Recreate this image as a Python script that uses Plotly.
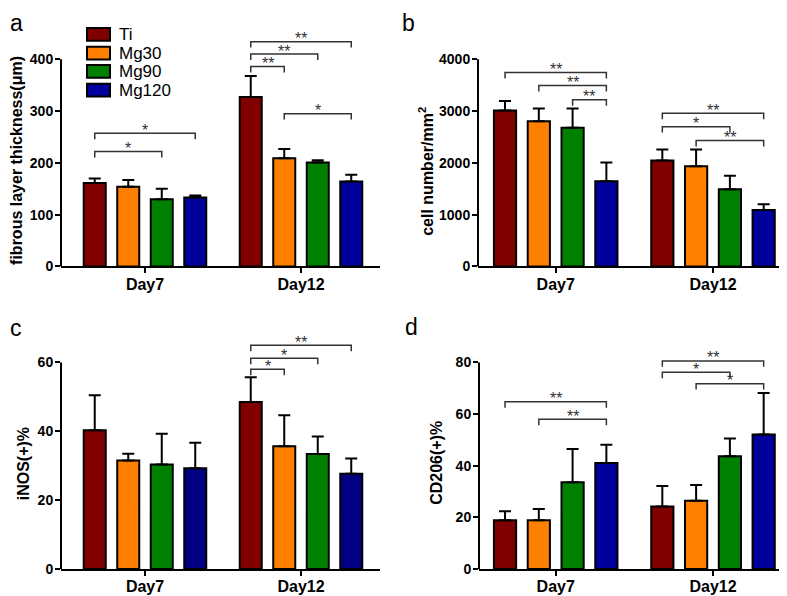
import plotly.graph_objects as go

W, H = 787, 596

groups = ["Day7", "Day12"]
series = ["Ti", "Mg30", "Mg90", "Mg120"]
colors = ["#800000", "#ff8000", "#008000", "#00009c"]
colors_c = ["#800000", "#ff8000", "#008000", "#000080"]

# Panel a: fibrous layer thickness (um)  [Day7, Day12]
a_Ti = [161, 327]
a_Mg30 = [154, 209]
a_Mg90 = [130, 201]
a_Mg120 = [133, 164]
a_Ti_err = [9, 41]
a_Mg30_err = [13, 18]
a_Mg90_err = [20, 4]
a_Mg120_err = [4, 13]
a_ticks = [0, 100, 200, 300, 400]
# significance brackets: (group, from series, to series, height, label)
a_sig = [(0, 0, 2, 222, "*"), (0, 0, 3, 257, "*"),
         (1, 0, 1, 386, "**"), (1, 0, 2, 410, "**"), (1, 0, 3, 434, "**"),
         (1, 1, 3, 295, "*")]

# Panel b: cell number/mm2
b_Ti = [3010, 2044]
b_Mg30 = [2806, 1937]
b_Mg90 = [2679, 1492]
b_Mg120 = [1644, 1092]
b_Ti_err = [184, 216]
b_Mg30_err = [242, 323]
b_Mg90_err = [369, 260]
b_Mg120_err = [362, 108]
b_ticks = [0, 1000, 2000, 3000, 4000]
b_sig = [(0, 0, 3, 3746, "**"), (0, 1, 3, 3492, "**"), (0, 2, 3, 3219, "**"),
         (1, 0, 3, 2959, "**"), (1, 0, 2, 2699, "*"), (1, 1, 3, 2432, "**")]

# Panel c: iNOS(+)%
c_Ti = [40.3, 48.5]
c_Mg30 = [31.5, 35.7]
c_Mg90 = [30.4, 33.4]
c_Mg120 = [29.3, 27.7]
c_Ti_err = [10.2, 7.2]
c_Mg30_err = [2.0, 9.0]
c_Mg90_err = [8.9, 5.1]
c_Mg120_err = [7.4, 4.4]
c_ticks = [0, 20, 40, 60]
c_sig = [(1, 0, 1, 58.0, "*"), (1, 0, 2, 61.2, "*"), (1, 0, 3, 65.0, "**")]

# Panel d: CD206(+)%
d_Ti = [18.9, 24.2]
d_Mg30 = [18.9, 26.5]
d_Mg90 = [33.6, 43.7]
d_Mg120 = [41.1, 52.1]
d_Ti_err = [3.5, 8.0]
d_Mg30_err = [4.4, 6.1]
d_Mg90_err = [12.9, 6.9]
d_Mg120_err = [7.0, 16.1]
d_ticks = [0, 20, 40, 60, 80]
d_sig = [(0, 0, 3, 64.8, "**"), (0, 1, 3, 58.0, "**"),
         (1, 0, 3, 80.6, "**"), (1, 0, 2, 76.2, "*"), (1, 1, 3, 71.8, "*")]

titles = ["fibrous layer thickness(\u03bcm)", "cell number/mm<sup>2</sup>", "iNOS(+)%", "CD206(+)%"]
letters = ["a", "b", "c", "d"]

FONT = "Liberation Sans, Arial, Helvetica, sans-serif"
BARGAP = 0.141
BARGROUPGAP = 0.343
SLOT = (1 - BARGAP) / 4

# pixel geometry of each panel: left, right, x of Day7, px per group,
# y pixel of 0, y pixel of top tick, domain top pixel
geom = [
    dict(l=53, r=372, g0=137, gs=156, y0=262, yt=52, top=12),
    dict(l=470, r=780, g0=547.7, gs=157.3, y0=262, yt=52, top=12),
    dict(l=53, r=372, g0=137, gs=156, y0=568.7, yt=359.3, top=318),
    dict(l=471, r=781, g0=547.7, gs=157.3, y0=568.7, yt=359.3, top=318),
]

panels = [
    ([a_Ti, a_Mg30, a_Mg90, a_Mg120], [a_Ti_err, a_Mg30_err, a_Mg90_err, a_Mg120_err], a_ticks, a_sig, colors),
    ([b_Ti, b_Mg30, b_Mg90, b_Mg120], [b_Ti_err, b_Mg30_err, b_Mg90_err, b_Mg120_err], b_ticks, b_sig, colors),
    ([c_Ti, c_Mg30, c_Mg90, c_Mg120], [c_Ti_err, c_Mg30_err, c_Mg90_err, c_Mg120_err], c_ticks, c_sig, colors_c),
    ([d_Ti, d_Mg30, d_Mg90, d_Mg120], [d_Ti_err, d_Mg30_err, d_Mg90_err, d_Mg120_err], d_ticks, d_sig, colors),
]

fig = go.Figure()
shapes = []
annotations = []
layout_axes = {}

for k, (vals, errs, ticks, sig, cols) in enumerate(panels):
    g = geom[k]
    xa = "x" if k == 0 else f"x{k+1}"
    ya = "y" if k == 0 else f"y{k+1}"
    xname = "xaxis" if k == 0 else f"xaxis{k+1}"
    yname = "yaxis" if k == 0 else f"yaxis{k+1}"
    tmax = ticks[-1]
    ppu = (g["y0"] - g["yt"]) / tmax  # pixels per data unit
    ytop = (g["y0"] - g["top"]) / ppu
    xr = [(g["l"] - g["g0"]) / g["gs"], (g["r"] - g["g0"]) / g["gs"]]

    for i, s in enumerate(series):
        fig.add_trace(go.Bar(
            x=[0, 1], y=vals[i], name=s, showlegend=False,
            marker=dict(color=cols[i], line=dict(color="black", width=2)),
            error_y=dict(type="data", array=errs[i], arrayminus=[0, 0], symmetric=False,
                         color="black", thickness=2, width=6),
            xaxis=xa, yaxis=ya, offsetgroup=str(i),
        ))

    # significance brackets
    drop = 6 / ppu
    bx, by = [], []
    for (gi, i1, i2, yv, lab) in sig:
        x1 = gi + (i1 - 1.5) * SLOT
        x2 = gi + (i2 - 1.5) * SLOT
        bx += [x1, x1, x2, x2, None]
        by += [yv - drop, yv, yv, yv - drop, None]
        annotations.append(dict(x=(x1 + x2) / 2, y=yv, xref=xa, yref=ya, text=lab,
                                showarrow=False, yanchor="middle", yshift=3,
                                font=dict(family=FONT, size=16, color="#333333")))
    fig.add_trace(go.Scatter(x=bx, y=by, mode="lines", showlegend=False, hoverinfo="skip",
                             line=dict(color="#333333", width=1.5), xaxis=xa, yaxis=ya,
                             cliponaxis=False))

    layout_axes[xname] = dict(
        domain=[g["l"] / W, g["r"] / W], range=xr, anchor=ya,
        tickvals=[0, 1], ticktext=groups, ticks="outside", ticklen=5, tickwidth=2,
        tickcolor="black", showline=True, linewidth=2, linecolor="black",
        showgrid=False, zeroline=False, ticklabelstandoff=-3,
        tickfont=dict(family=FONT, size=16, color="black", weight="bold"),
    )
    layout_axes[yname] = dict(
        domain=[1 - g["y0"] / H, 1 - g["top"] / H], range=[0, ytop], anchor=xa,
        tickvals=ticks, ticks="outside", ticklen=5, tickwidth=2, tickcolor="black",
        showline=False, showgrid=False, zeroline=False, ticklabelstandoff=-1,
        tickfont=dict(family=FONT, size=14, color="black", weight="bold"),
    )
    shapes.append(dict(type="line", xref=f"{xa} domain", yref=ya, x0=0, x1=0,
                       y0=0, y1=tmax, line=dict(color="black", width=2)))

# axis titles (pixel centres)
title_pos = [(9, 155), (418, 165), (15.5, 462), (429, 461)]
for t, (px, py) in zip(titles, title_pos):
    annotations.append(dict(x=px / W, y=1 - py / H, xref="paper", yref="paper", text=t,
                            textangle=-90, showarrow=False, xanchor="center", yanchor="middle",
                            font=dict(family=FONT, size=16, color="black", weight="bold")))

# panel letters (top-left pixel of the text box)
letter_pos = [(0, 0), (392, 0), (0, 309), (395, 308)]
for t, (px, py) in zip(letters, letter_pos):
    annotations.append(dict(x=px / W, y=1 - py / H, xref="paper", yref="paper", text=t,
                            showarrow=False, xanchor="left", yanchor="top",
                            font=dict(family=FONT, size=23, color="black")))

# legend (panel a)
leg_y = [26.7, 45.7, 64.3, 83.3]
for i, s in enumerate(series):
    cy = leg_y[i]
    shapes.append(dict(type="rect", xref="paper", yref="paper",
                       x0=79 / W, x1=102 / W, y0=1 - (cy + 6.5) / H, y1=1 - (cy - 6.5) / H,
                       fillcolor=colors[i], line=dict(color="black", width=2)))
    annotations.append(dict(x=109 / W, y=1 - cy / H, xref="paper", yref="paper", text=s,
                            showarrow=False, xanchor="left", yanchor="middle",
                            font=dict(family=FONT, size=17, color="black")))

fig.update_layout(
    width=W, height=H, margin=dict(l=0, r=0, t=0, b=0),
    paper_bgcolor="white", plot_bgcolor="white",
    barmode="group", bargap=BARGAP, bargroupgap=BARGROUPGAP,
    shapes=shapes, annotations=annotations, showlegend=False,
    **layout_axes,
)

fig.write_html("out.html")
